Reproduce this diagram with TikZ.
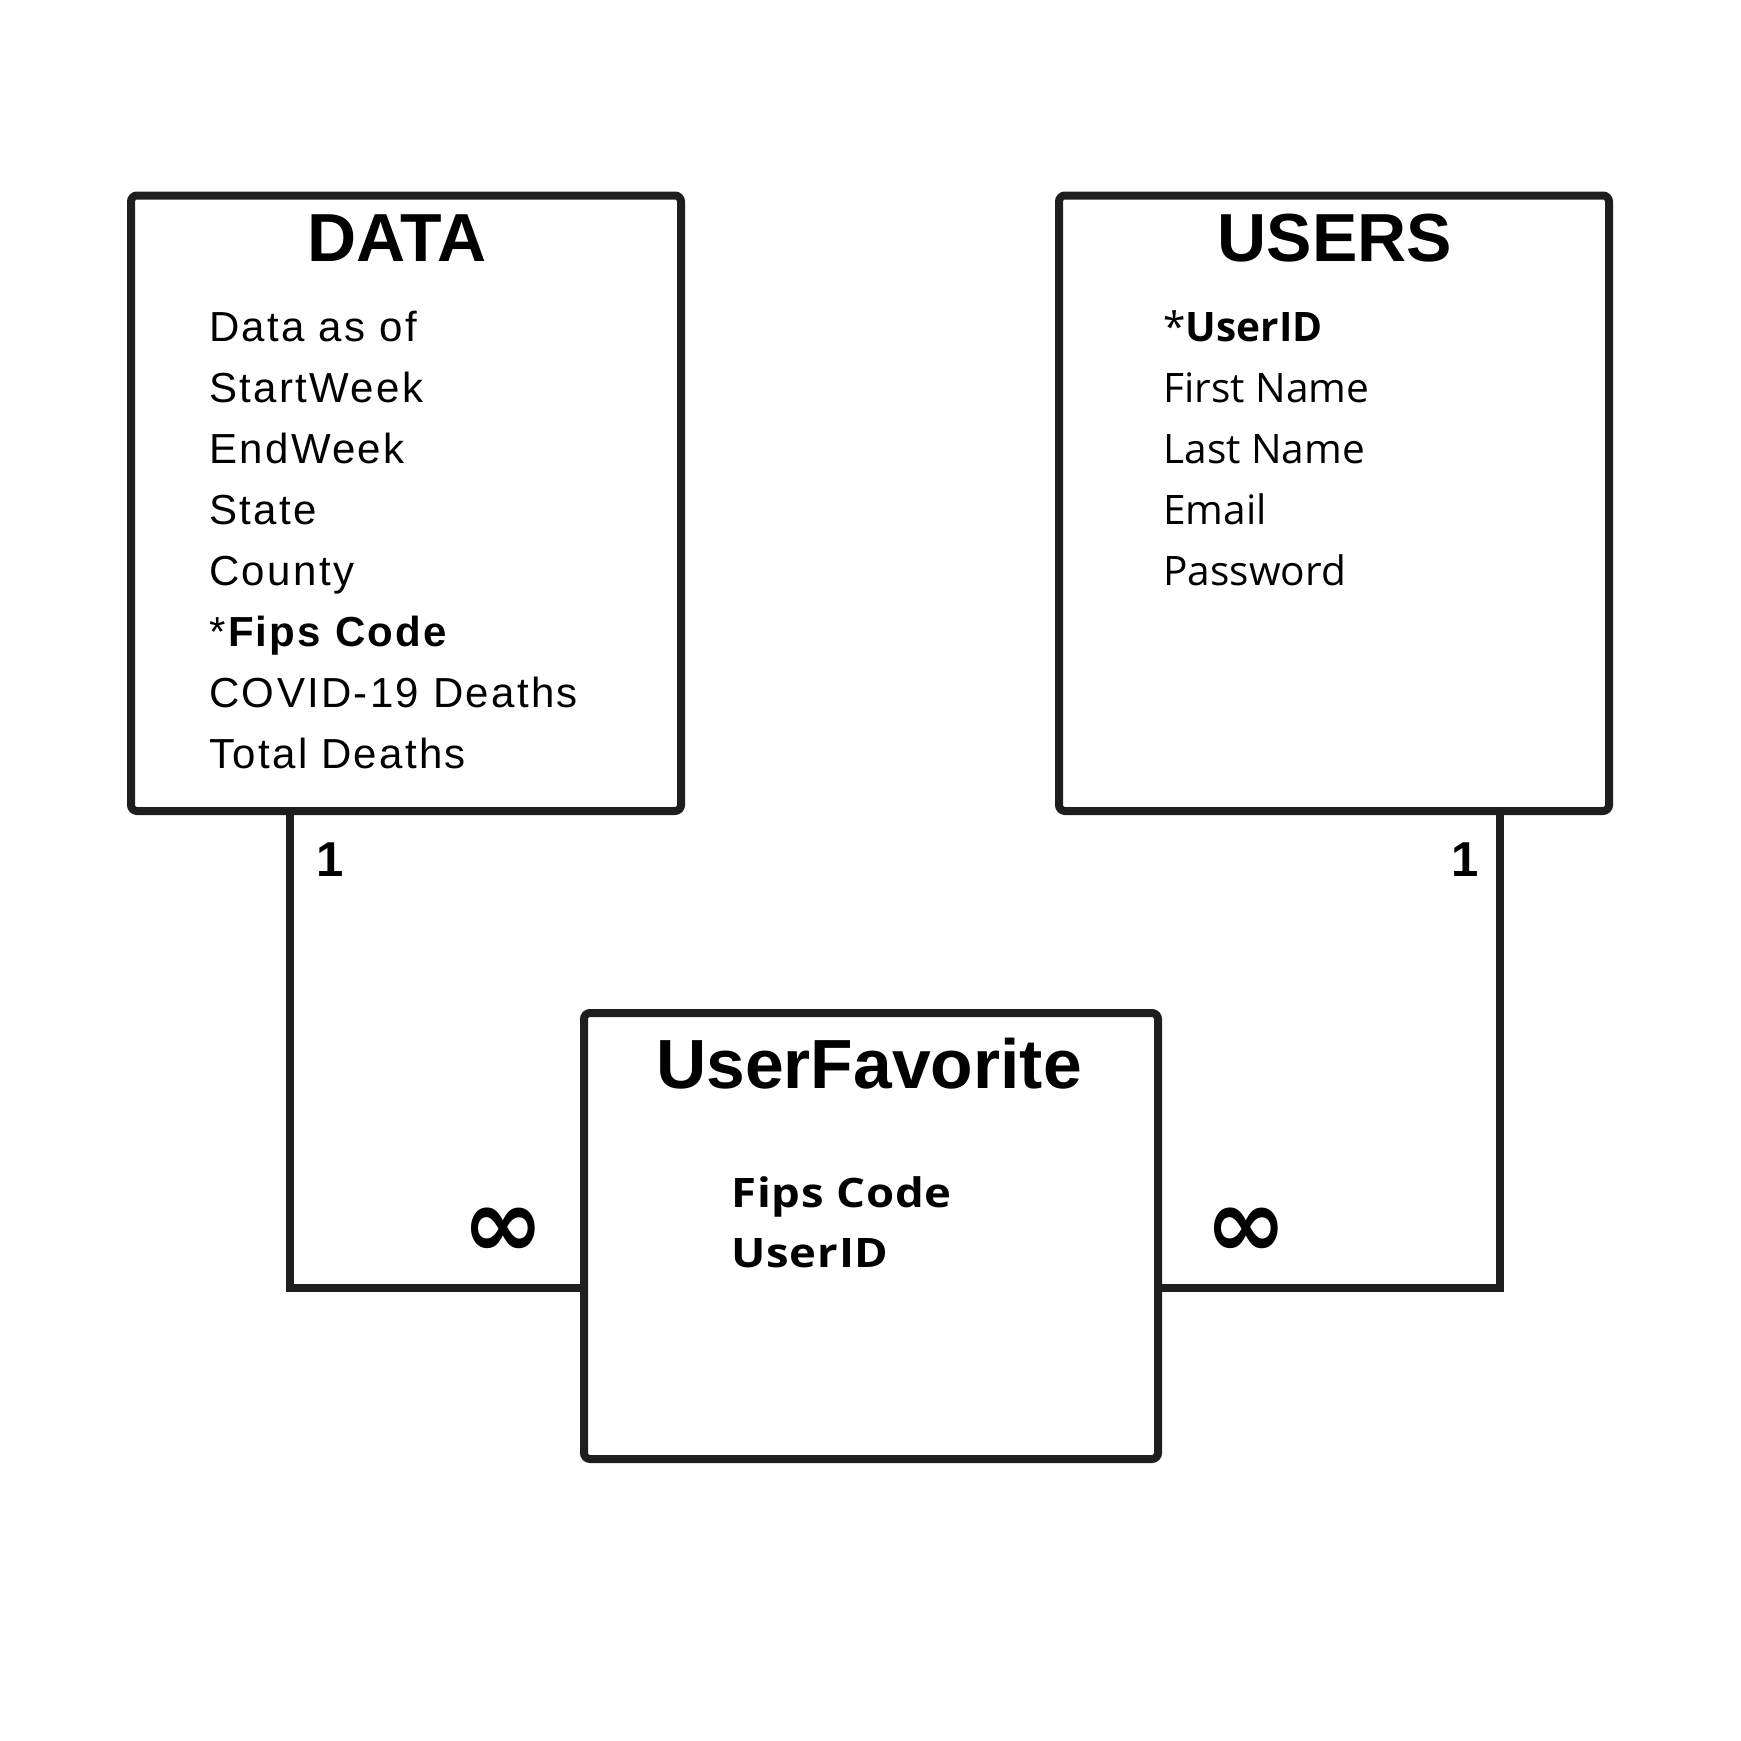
\documentclass[tikz,border=0pt]{standalone}
\usepackage{fontspec}
\setmainfont{Liberation Sans}
\newfontfamily\fieldA[LetterSpace=5.5]{Liberation Sans}
\newfontfamily\fieldB{Open Sans}
\newfontfamily\fieldC[FakeStretch=1.12,LetterSpace=2]{Open Sans}
\newfontfamily\symfont{DejaVu Sans}
\definecolor{linegray}{RGB}{30,30,30}
\begin{document}
\begin{tikzpicture}[x=0.5pt,y=-0.5pt,
  entity/.style={draw=linegray, line width=4pt, rounded corners=3pt, inner sep=0pt, outer sep=0pt, rectangle},
  conn/.style={draw=linegray, line width=4pt},
  title/.style={anchor=base, inner sep=0pt, font=\bfseries\fontsize{34pt}{40pt}\selectfont},
  fa/.style={anchor=base west, inner sep=0pt, font=\fieldA\fontsize{21pt}{25pt}\selectfont},
  fb/.style={anchor=base west, inner sep=0pt, font=\fieldB\fontsize{20.3pt}{25pt}\selectfont},
  fc/.style={anchor=base west, inner sep=0pt, font=\fieldC\bfseries\fontsize{20.3pt}{25pt}\selectfont},
  card/.style={anchor=base, inner sep=0pt, font=\bfseries\fontsize{24.5pt}{28pt}\selectfont},
  many/.style={inner sep=0pt, font=\symfont\bfseries\fontsize{49pt}{52pt}\selectfont}]
\useasboundingbox (0,0) rectangle (1741,1741);
\fill[white] (0,0) rectangle (1741,1741);
% entities
\node[entity, minimum width=275pt, minimum height=307.75pt] (data) at (406,503.25) {};
\node[entity, minimum width=275pt, minimum height=307.75pt] (users) at (1334,503.25) {};
\node[entity, minimum width=287pt, minimum height=223pt] (fav) at (871,1236) {};
% titles
\node[title] (tdata) at (397,261) {DATA};
\node[title] (tusers) at (1335,261) {USERS};
\node[title, font=\bfseries\fontsize{34.8pt}{40pt}\selectfont] (tfav) at (869,1088) {UserFavorite};
% DATA fields
\foreach \t [count=\i from 0] in {Data as of, StartWeek, EndWeek, State, County, {*\textbf{Fips Code}}, COVID-19 Deaths, Total Deaths}
  \node[fa] (d\i) at (209,{341.7+61*\i}) {\t};
% USERS fields
\foreach \t [count=\i from 0] in {{*\textbf{UserID}}, First Name, Last Name, Email, Password}
  \node[fb] (u\i) at (1163,{341.7+61*\i}) {\t};
% UserFavorite fields
\node[fc] (f0) at (731,1207) {Fips Code};
\node[fc] (f1) at (731,1267) {UserID};
% connectors
\coordinate (lx) at (290,0);
\coordinate (rx) at (1500,0);
\coordinate (ly) at (0,1288);
\draw[conn] (data.south -| lx) |- (fav.west |- ly);
\draw[conn] (users.south -| rx) |- (fav.east |- ly);
% cardinalities
\node[card] (c1) at (330,876.7) {1};
\node[card] (c2) at (1465.5,876.7) {1};
\node[many] (m1) at (503,1232.5) {∞};
\node[many] (m2) at (1246,1233) {∞};
\end{tikzpicture}
\end{document}
